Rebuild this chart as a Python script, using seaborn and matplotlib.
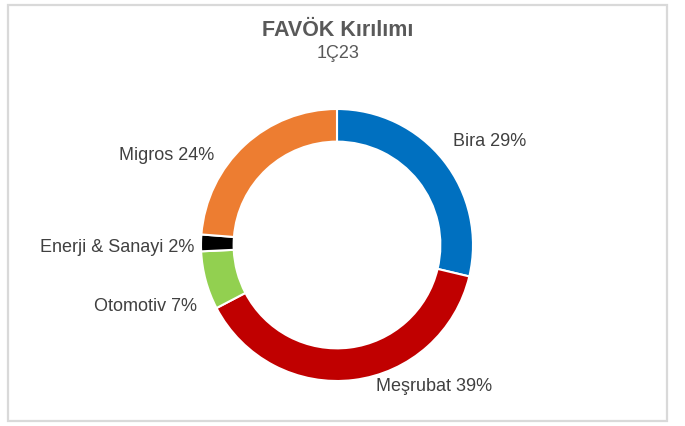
import matplotlib
matplotlib.use("Agg")
import matplotlib.pyplot as plt
import seaborn as sns
from matplotlib.patches import Rectangle

sns.set_theme(style="white")
plt.rcParams['font.family'] = ['Liberation Sans', 'DejaVu Sans']

# data
segments = ["Bira", "Meşrubat", "Otomotiv", "Enerji & Sanayi", "Migros"]
shares = [29, 39, 7, 2, 24]
colors = ["#0070C0", "#C00000", "#92D050", "#000000", "#ED7D31"]
title = "FAVÖK Kırılımı"
subtitle = "1Ç23"

# label anchor points (data units, radius 1 = outer edge) and alignment
label_pos = [(0.85, 0.76, "left"), (0.29, -1.04, "left"), (-1.03, -0.45, "right"),
             (-1.05, -0.015, "right"), (-0.90, 0.66, "right")]

W, H = 685, 426
fig = plt.figure(figsize=(W / 100, H / 100), dpi=100)
fig.patch.set_facecolor("white")

# outer frame
fig.patches.append(Rectangle((8 / W, 5 / H), 659 / W, 416 / H, transform=fig.transFigure,
                             fill=False, edgecolor="#D9D9D9", linewidth=1.6))

cx, cy, r = 337, 245, 136
ax = fig.add_axes([(cx - r) / W, (H - cy - r) / H, 2 * r / W, 2 * r / H])
ax.pie(shares, colors=colors, startangle=90, counterclock=False, radius=1,
       wedgeprops=dict(width=0.24, edgecolor="white", linewidth=1.5))
ax.set_xlim(-1, 1)
ax.set_ylim(-1, 1)
ax.set_aspect("equal")
ax.axis("off")

for name, val, (x, y, ha) in zip(segments, shares, label_pos):
    ax.text(x, y, f"{name} {val}%", ha=ha, va="center", fontsize=13,
            color="#404040", clip_on=False)

fig.text(338 / W, 1 - 30 / H, title, ha="center", va="center", fontsize=15.5,
         fontweight="bold", color="#595959")
fig.text(338 / W, 1 - 53 / H, subtitle, ha="center", va="center", fontsize=13,
         color="#595959")

fig.savefig("out.png", dpi=100)
